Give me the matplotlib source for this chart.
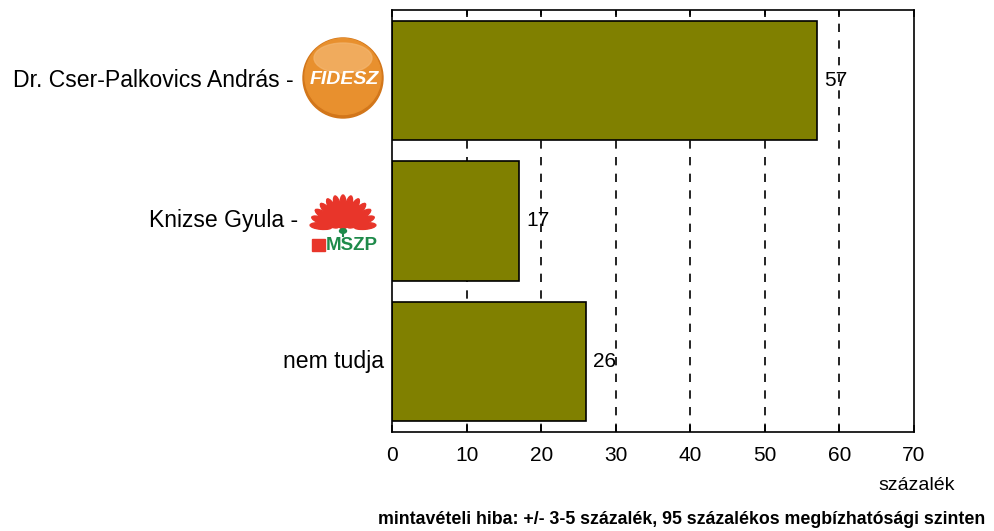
import matplotlib
matplotlib.use("Agg")
import matplotlib.pyplot as plt
import numpy as np
from matplotlib.patches import Circle, Ellipse, Rectangle, Polygon

plt.rcParams["font.family"] = ["Liberation Sans", "DejaVu Sans"]

categories = ["Dr. Cser-Palkovics András -", "Knizse Gyula -", "nem tudja"]
values = [57, 17, 26]
xticks = [0, 10, 20, 30, 40, 50, 60, 70]

W, H = 994, 531
fig = plt.figure(figsize=(W / 100, H / 100), dpi=100)
ax = fig.add_axes([392 / W, 1 - 432 / H, (914 - 392) / W, (432 - 10) / H])

y = np.arange(len(categories))
ax.barh(y, values, height=0.85, color="#808000", edgecolor="black",
        linewidth=1.2, zorder=2)
for yi, v in zip(y, values):
    ax.text(v + 1.0, yi, f"{v}", va="center", ha="left", fontsize=15, zorder=1)

ax.set_xlim(0, 70)
ax.set_ylim(2.5, -0.5)
ax.set_xticks(xticks)
ax.set_xticklabels([str(t) for t in xticks], fontsize=15)
ax.set_yticks([])
ax.tick_params(axis="x", direction="in", top=True, length=5, width=1.2, pad=10)
for t in xticks[1:-1]:
    ax.axvline(t, color="black", linestyle=(0, (5, 5)), linewidth=1.2, zorder=0)
for s in ax.spines.values():
    s.set_linewidth(1.2)

# category labels, placed left of the logos
label_x = [294, 298, 384]
for yi, lab, lx in zip(y, categories, label_x):
    ax.text((lx - 392) / (914 - 392), yi, lab, transform=ax.get_yaxis_transform(),
            ha="right", va="center", fontsize=16.6)


def pixel_axes(x0, y0, x1, y1):
    a = fig.add_axes([x0 / W, 1 - y1 / H, (x1 - x0) / W, (y1 - y0) / H])
    a.set_xlim(x0, x1)
    a.set_ylim(y1, y0)
    a.axis("off")
    return a


# FIDESZ logo
lax = pixel_axes(298, 33, 388, 123)
lax.add_patch(Circle((343, 78), 40, color="#D2761A"))
lax.add_patch(Circle((343, 76.5), 38, color="#E8902E"))
lax.add_patch(Ellipse((343, 58), 58, 30, color="#F3B56E", alpha=0.75))
lax.text(344, 80, "FIDESZ", color="white", fontsize=14, fontweight="bold",
         fontstyle="italic", ha="center", va="center")

# MSZP logo
max_ = pixel_axes(300, 185, 390, 256)
cx, cy = 343, 228
red = "#E8352A"
green = "#1E8A4A"
for ang in np.linspace(5, 175, 13):
    a = np.deg2rad(ang)
    max_.add_patch(Ellipse((cx + 22 * np.cos(a), cy - 22 * np.sin(a)),
                           22, 6.5, angle=-ang, color=red))
for ang in np.linspace(20, 160, 9):
    a = np.deg2rad(ang)
    max_.add_patch(Ellipse((cx + 11 * np.cos(a), cy - 10 * np.sin(a)),
                           13, 5.5, angle=-ang, color=red))
max_.add_patch(Polygon([[335, 224], [351, 224], [343, 230]], color=red))
max_.add_patch(Ellipse((343, 231), 7, 4.5, color=green))
max_.plot([343, 343], [231, 236], color=green, lw=1.5)
max_.add_patch(Rectangle((312, 239), 13, 11.5, color=red))
max_.text(326, 245, "MSZP", color=green, fontsize=13.5, fontweight="bold",
          ha="left", va="center")

fig.text(955 / W, 1 - 485 / H, "százalék", ha="right", va="center", fontsize=14)
fig.text(985 / W, 1 - 520 / H,
         "mintavételi hiba: +/- 3-5 százalék, 95 százalékos megbízhatósági szinten",
         ha="right", va="center", fontsize=12.8, fontweight="bold")

fig.savefig("out.png", dpi=100)
